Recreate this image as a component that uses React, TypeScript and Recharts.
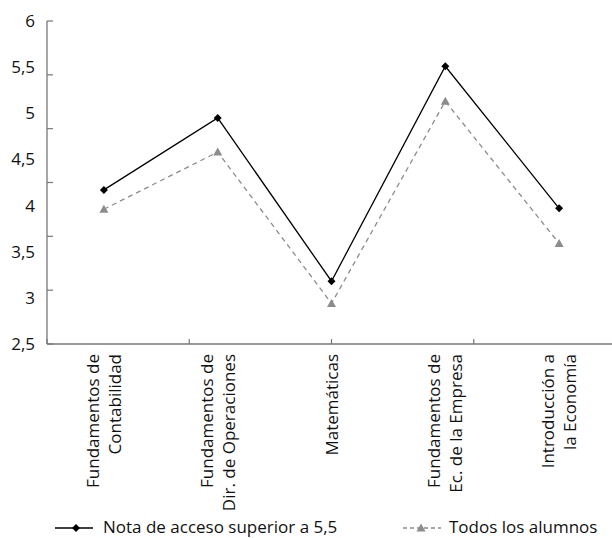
import React from 'react';
import { LineChart, Line, XAxis, YAxis, Legend } from 'recharts';

const FONT = '"Open Sans", "Noto Sans", sans-serif';

const categories = [
  'Fundamentos de\nContabilidad',
  'Fundamentos de\nDir. de Operaciones',
  'Matemáticas',
  'Fundamentos de\nEc. de la Empresa',
  'Introducción a\nla Economía',
];
const notaSuperior = [4.17, 4.95, 3.18, 5.51, 3.97];
const todosAlumnos = [3.96, 4.58, 2.94, 5.13, 3.59];
const yTicks = [2.5, 3, 3.5, 4, 4.5, 5, 5.5, 6];
const seriesNames = ['Nota de acceso superior a 5,5', 'Todos los alumnos'];

// the tick marks on both axes sit on their own grid, separate from the labels
const yMarkTicks = [0, 1, 2, 3, 4, 5, 6];
const xMarkTicks = [0, 1, 2, 3, 4, 5];

const data = categories.map((name, i) => ({
  name,
  nota: notaSuperior[i],
  todos: todosAlumnos[i],
}));

const AXIS = '#777';
const GRAY = '#8c8c8c';

const diamond = (cx: number, cy: number, r = 4) =>
  `M${cx},${cy - r}L${cx + r},${cy}L${cx},${cy + r}L${cx - r},${cy}Z`;
const triangle = (cx: number, cy: number) =>
  `M${cx},${cy - 4.5}L${cx + 4.5},${cy + 3.5}L${cx - 4.5},${cy + 3.5}Z`;

const DiamondDot = (props: any) => {
  const { cx, cy, index } = props;
  if (cx == null || cy == null) return <g key={index} />;
  return <path key={index} d={diamond(cx, cy)} fill="#000" />;
};

const TriangleDot = (props: any) => {
  const { cx, cy, index } = props;
  if (cx == null || cy == null) return <g key={index} />;
  return <path key={index} d={triangle(cx, cy)} fill={GRAY} />;
};

const NoLabel = () => <g />;

const CategoryTick = (props: any) => {
  const { x, y, payload } = props;
  const lines = String(payload.value).split('\n');
  return (
    <g transform={`translate(${x},${y})`}>
      <text transform="rotate(-90)" textAnchor="end" fontSize={17} fill="#111" fontFamily={FONT}>
        {lines.map((l, i) => (
          <tspan key={i} x={0} y={6 + (i - (lines.length - 1) / 2) * 22}>
            {l}
          </tspan>
        ))}
      </text>
    </g>
  );
};

const renderLegend = () => (
  <div style={{ position: 'relative', width: 612, height: 40, fontFamily: FONT, fontSize: 17, color: '#111' }}>
    <svg width={612} height={40} style={{ position: 'absolute', left: 0, top: 0 }}>
      <line x1={55} x2={93} y1={30} y2={30} stroke="#000" strokeWidth={1.3} />
      <path d={diamond(76, 30)} fill="#000" />
      <line x1={403} x2={441} y1={30} y2={30} stroke={GRAY} strokeWidth={1.3} strokeDasharray="4 3" />
      <path d={triangle(421, 30)} fill={GRAY} />
    </svg>
    <span style={{ position: 'absolute', left: 103, top: 19, lineHeight: '20px', whiteSpace: 'nowrap' }}>
      {seriesNames[0]}
    </span>
    <span style={{ position: 'absolute', left: 449, top: 19, lineHeight: '20px', whiteSpace: 'nowrap' }}>
      {seriesNames[1]}
    </span>
  </div>
);

export default function App() {
  return (
    <div style={{ position: 'absolute', left: 0, top: 0, width: 612, height: 538, overflow: 'hidden', background: '#fff' }}>
      <LineChart width={616} height={538} data={data} margin={{ top: 21, right: 0, bottom: 0, left: 0 }}>
        <XAxis
          xAxisId="main"
          dataKey="name"
          scale="band"
          height={154}
          interval={0}
          tickLine={false}
          tickMargin={4}
          axisLine={{ stroke: AXIS, strokeWidth: 1.3 }}
          tick={<CategoryTick />}
        />
        <XAxis
          xAxisId="marks"
          type="number"
          domain={[0, 5]}
          ticks={xMarkTicks}
          allowDataOverflow
          mirror
          height={10}
          axisLine={false}
          tick={<NoLabel />}
          tickSize={5}
          tickLine={{ stroke: AXIS, strokeWidth: 1.2 }}
        />
        <YAxis
          yAxisId="vals"
          width={47}
          domain={[2.5, 6]}
          ticks={yTicks}
          interval={0}
          tickLine={false}
          tickMargin={6}
          axisLine={{ stroke: AXIS, strokeWidth: 1.3 }}
          tick={{ fontSize: 17, fill: '#111', fontFamily: FONT }}
          tickFormatter={(v: number) => String(v).replace('.', ',')}
        />
        <YAxis
          yAxisId="marks"
          type="number"
          domain={[0, 6]}
          ticks={yMarkTicks}
          allowDataOverflow
          mirror
          axisLine={false}
          tick={<NoLabel />}
          tickSize={6}
          tickLine={{ stroke: AXIS, strokeWidth: 1.2 }}
        />
        <Legend verticalAlign="bottom" height={40} content={renderLegend} wrapperStyle={{ left: 0, bottom: 0, width: 612 }} />
        <Line
          xAxisId="main"
          yAxisId="vals"
          dataKey="nota"
          name={seriesNames[0]}
          stroke="#000"
          strokeWidth={1.3}
          dot={<DiamondDot />}
          activeDot={false}
          isAnimationActive={false}
        />
        <Line
          xAxisId="main"
          yAxisId="vals"
          dataKey="todos"
          name={seriesNames[1]}
          stroke={GRAY}
          strokeWidth={1.3}
          strokeDasharray="5 4"
          dot={<TriangleDot />}
          activeDot={false}
          isAnimationActive={false}
        />
      </LineChart>
    </div>
  );
}
